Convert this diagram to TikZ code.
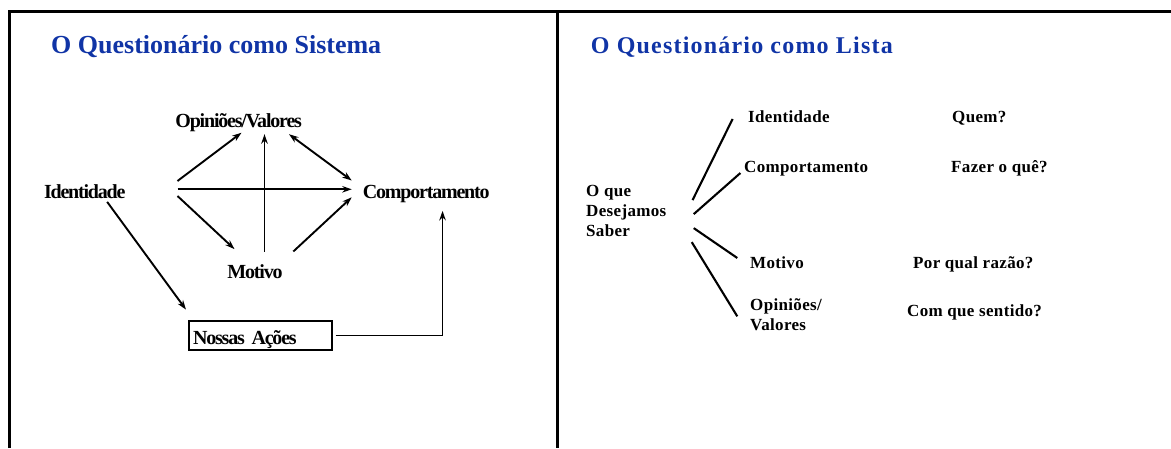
\documentclass[tikz,border=0pt]{standalone}
\usepackage{fontspec}
\setmainfont{Liberation Serif}
\newfontfamily\sysfont{Liberation Serif}[LetterSpace=-6]
\newfontfamily\listfont{Liberation Serif}[LetterSpace=2]
\newfontfamily\headfont{Liberation Serif}[LetterSpace=5]
\usetikzlibrary{arrows.meta}
\definecolor{headblue}{RGB}{16,52,166}

\begin{document}
\begin{tikzpicture}[x=1pt,y=-1pt]
		\tikzset{sys/.style = {inner sep=0pt, text height=14pt, text depth=4pt, font=\sysfont\bfseries\fontsize{20}{22}\selectfont},
			listtext/.style = {inner sep=0pt, font=\listfont\bfseries\fontsize{17}{20}\selectfont},
			listitem/.style = {listtext, text height=12pt, text depth=4pt, anchor=base west},
			headline/.style = {inner sep=0pt, anchor=base west, text=headblue},
			arr/.style = {->, line width=1.9pt},
			branch/.style = {line width=2.1pt},
			>={Stealth[length=9.5pt,width=6.5pt]}}

		\useasboundingbox (0,0) rectangle (1171,448);

		\draw[line width=3.2pt] (9.7,448) -- (9.7,11.5) -- (1171,11.5);
		\draw[line width=3.2pt] (557.5,11.5) -- (557.5,448);

		\node[headline, font=\bfseries\fontsize{26}{30}\selectfont] (T_1) at (51,53.3) {O Questionário como Sistema};
		\node[headline, font=\headfont\bfseries\fontsize{24}{28}\selectfont] (T_2) at (590.7,53.3) {O Questionário como Lista};


		\node[sys, anchor=base east] (S_1) at (125.7,198.3) {Identidade};
		\node[sys, anchor=base] (S_2) at (238.7,127.3) {Opiniões/Valores};
		\node[sys, anchor=base west] (S_3) at (362.7,198.3) {Comportamento};
		\node[sys, anchor=base] (S_4) at (255,278.3) {Motivo};
		\node[sys, draw, line width=2.2pt, anchor=base west, inner xsep=4pt, inner ysep=2pt, text height=21pt, text depth=4pt, text width=135pt, align=left] (S_5) at (188,344) {Nossas Ações};

		\draw[arr] ([shift={(51.8,-12.3)}]S_1.east) -- ([shift={(2.8,1.2)}]S_2.south);
		\draw[arr] ([shift={(51.8,-4)}]S_1.east) -- ([shift={(-11,-4)}]S_3.west);
		\draw[arr] ([shift={(51.8,2.7)}]S_1.east) -- ([shift={(-20.5,-15)}]S_4.north);
		\draw[arr] ([shift={(9.5,-12.6)}]S_4.north) -- ([shift={(25.8,2.7)}]S_2.south);
		\draw[arr] ([shift={(38.3,-12.6)}]S_4.north) -- ([shift={(-11,4)}]S_3.west);
		\draw[arr, <->] ([shift={(50.3,2.7)}]S_2.south) -- ([shift={(-11,-12.8)}]S_3.west);
		\draw[arr] ([shift={(22.4,-0.6)}]S_1.south) -- ([shift={(-2,-10.3)}]S_5.north west);
		\draw[arr] ([shift={(2.3,0)}]S_5.east) -| ([shift={(16.3,8.4)}]S_3.south);


		\node[listtext, anchor=north west, align=left] (L_0) at (586,185.2) {O que\\Desejamos\\Saber};
		\node[listitem] (L_1) at (748,122) {Identidade};
		\node[listitem] (L_2) at (744,172) {Comportamento};
		\node[listitem] (L_3) at (750,268) {Motivo};
		\node[listtext, anchor=north west, align=left] (L_4) at (750,298.3) {Opiniões/\\Valores};

		\node[listitem] (Q_1) at (952,122) {Quem?};
		\node[listitem] (Q_2) at (951,172) {Fazer o quê?};
		\node[listitem] (Q_3) at (913,268) {Por qual razão?};
		\node[listitem] (Q_4) at (907,316.7) {Com que sentido?};

		\draw[branch] ([shift={(26,-11)}]L_0.east) -- ([shift={(-15.4,1)}]L_1.west);
		\draw[branch] ([shift={(27.2,3)}]L_0.east) -- ([shift={(-3.6,5)}]L_2.west);
		\draw[branch] ([shift={(27.2,17)}]L_0.east) -- ([shift={(-12.7,-6)}]L_3.west);
		\draw[branch] ([shift={(25.2,31)}]L_0.east) -- ([shift={(-12.7,1.8)}]L_4.west);

	\end{tikzpicture}
\end{document}
